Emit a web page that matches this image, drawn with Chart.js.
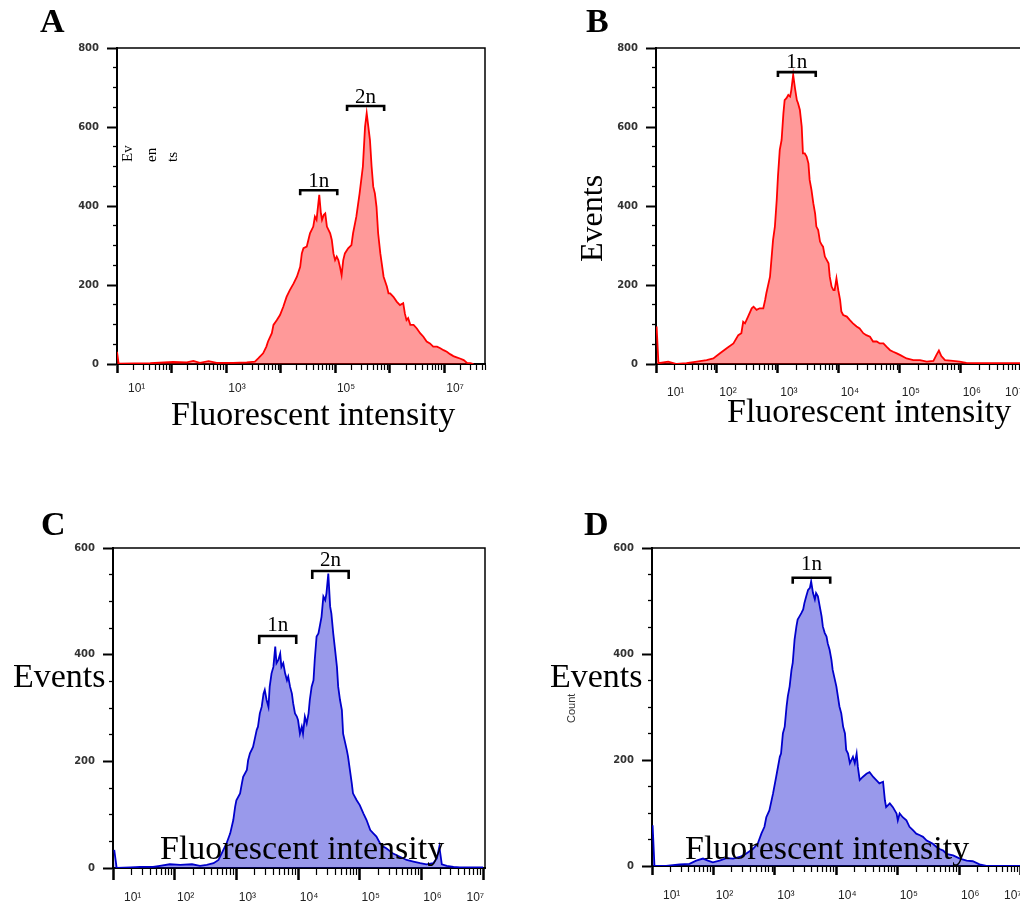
<!DOCTYPE html>
<html>
<head>
<meta charset="utf-8">
<script src="https://cdn.jsdelivr.net/npm/chart.js@4.4.1/dist/chart.umd.min.js"></script>
<style>
html,body{margin:0;padding:0;width:1020px;height:901px;overflow:hidden;background:#fff;}
canvas{position:absolute;}
.t{position:absolute;white-space:nowrap;line-height:1;color:#000;font-family:"Liberation Serif","Times New Roman",serif;}
.rot{transform:rotate(-90deg);transform-origin:0 0;}
</style>
</head>
<body>
<canvas id="cA"></canvas>
<canvas id="cB"></canvas>
<canvas id="cC"></canvas>
<canvas id="cD"></canvas>

<div class="t" style="left:40px;top:4px;font-size:34px;font-weight:bold;">A</div>
<div class="t" style="left:586px;top:4px;font-size:34px;font-weight:bold;">B</div>
<div class="t" style="left:41px;top:507px;font-size:34px;font-weight:bold;">C</div>
<div class="t" style="left:584px;top:507px;font-size:34px;font-weight:bold;">D</div>

<div class="t" style="left:171px;top:397px;font-size:34px;">Fluorescent intensity</div>
<div class="t" style="left:727px;top:394px;font-size:34px;">Fluorescent intensity</div>
<div class="t" style="left:160px;top:831px;font-size:34px;">Fluorescent intensity</div>
<div class="t" style="left:685px;top:831px;font-size:34px;">Fluorescent intensity</div>

<div class="t rot" style="left:575px;top:262px;font-size:32px;">Events</div>
<div class="t" style="left:13px;top:659px;font-size:34px;">Events</div>
<div class="t" style="left:550px;top:659px;font-size:34px;">Events</div>

<div class="t rot" style="left:120px;top:162px;font-size:15px;">Ev</div>
<div class="t rot" style="left:144px;top:162px;font-size:15px;">en</div>
<div class="t rot" style="left:165px;top:162px;font-size:15px;">ts</div>
<div class="t rot" style="left:566px;top:723px;font-size:11px;font-family:'Liberation Sans',Arial,sans-serif;color:#333;">Count</div>

<script>
// ---------- DATA (log10 of fluorescent intensity, event counts) ----------
const A_logI = [
  1.00, 1.03, 1.61, 2.03, 2.28, 2.40, 2.52, 2.68, 2.83, 3.13,
  3.38, 3.53, 3.59, 3.68, 3.74, 3.77, 3.84, 3.87, 3.93, 3.99,
  4.05, 4.11, 4.17, 4.24, 4.30, 4.36, 4.39, 4.42, 4.48, 4.51,
  4.54, 4.60, 4.63, 4.66, 4.69, 4.71, 4.74, 4.76, 4.79, 4.82,
  4.85, 4.91, 4.94, 4.97, 5.00, 5.03, 5.06, 5.09, 5.12, 5.15,
  5.18, 5.24, 5.30, 5.33, 5.39, 5.45, 5.51, 5.55, 5.58, 5.61,
  5.64, 5.67, 5.70, 5.73, 5.76, 5.79, 5.83, 5.89, 5.95, 5.98,
  6.01, 6.07, 6.13, 6.19, 6.25, 6.28, 6.31, 6.34, 6.38, 6.44,
  6.50, 6.56, 6.62, 6.68, 6.74, 6.80, 6.87, 6.93, 6.99, 7.05,
  7.11, 7.17, 7.23, 7.29, 7.36, 7.42, 7.48, 7.54
];
const A_counts = [
  31, 1, 2, 5, 4, 8, 3, 7, 3, 3,
  4, 6, 14, 27, 44, 57, 78, 99, 111, 124,
  145, 170, 187, 204, 221, 246, 280, 293, 297, 314,
  331, 348, 373, 365, 403, 428, 381, 365, 377, 381,
  348, 331, 314, 280, 263, 272, 263, 246, 225, 263,
  280, 293, 301, 331, 373, 432, 500, 601, 635, 601,
  567, 500, 449, 432, 398, 331, 280, 221, 196, 179,
  179, 170, 158, 149, 154, 128, 111, 116, 99, 99,
  90, 78, 69, 57, 52, 44, 44, 40, 35, 31,
  25, 20, 17, 14, 10, 3, 2, 0
];

const B_logI = [
  1.01, 1.04, 1.20, 1.34, 1.50, 1.67, 1.83, 1.94, 2.05, 2.16,
  2.27, 2.35, 2.40, 2.43, 2.46, 2.51, 2.57, 2.60, 2.65, 2.70,
  2.76, 2.79, 2.81, 2.87, 2.92, 2.95, 2.98, 3.00, 3.03, 3.06,
  3.09, 3.11, 3.14, 3.17, 3.20, 3.22, 3.25, 3.28, 3.31, 3.33,
  3.36, 3.39, 3.41, 3.44, 3.47, 3.50, 3.52, 3.55, 3.58, 3.61,
  3.63, 3.66, 3.69, 3.72, 3.74, 3.77, 3.83, 3.85, 3.88, 3.91,
  3.93, 3.96, 3.99, 4.02, 4.04, 4.07, 4.13, 4.18, 4.23, 4.29,
  4.34, 4.40, 4.45, 4.51, 4.56, 4.62, 4.67, 4.73, 4.78, 4.84,
  4.89, 4.95, 5.00, 5.11, 5.22, 5.33, 5.44, 5.55, 5.60, 5.64,
  5.68, 5.74, 5.87, 5.98, 6.09, 6.31, 6.48, 6.97
];
const B_counts = [
  95, 2, 6, 0, 2, 6, 10, 14, 27, 40,
  52, 73, 78, 107, 103, 120, 141, 145, 137, 141,
  141, 162, 179, 221, 314, 348, 415, 474, 542, 567,
  635, 668, 673, 681, 677, 694, 732, 698, 668, 660,
  643, 601, 533, 533, 525, 508, 466, 441, 407, 381,
  348, 339, 310, 301, 297, 272, 255, 221, 196, 187,
  187, 217, 187, 162, 133, 124, 120, 111, 103, 95,
  90, 78, 73, 69, 57, 57, 52, 52, 44, 35,
  31, 27, 23, 14, 10, 10, 6, 8, 23, 34,
  20, 10, 8, 6, 3, 2, 2, 2
];

const C_logI = [
  1.02, 1.06, 1.28, 1.44, 1.65, 1.76, 1.92, 2.09, 2.28, 2.41,
  2.52, 2.63, 2.71, 2.76, 2.84, 2.90, 2.95, 2.98, 3.00, 3.06,
  3.09, 3.11, 3.17, 3.19, 3.22, 3.27, 3.30, 3.33, 3.35, 3.38,
  3.41, 3.44, 3.46, 3.49, 3.52, 3.54, 3.57, 3.60, 3.63, 3.65,
  3.68, 3.71, 3.73, 3.76, 3.79, 3.82, 3.84, 3.87, 3.90, 3.92,
  3.95, 3.98, 4.00, 4.03, 4.06, 4.08, 4.11, 4.14, 4.17, 4.19,
  4.22, 4.25, 4.27, 4.30, 4.33, 4.35, 4.38, 4.41, 4.44, 4.46,
  4.49, 4.52, 4.54, 4.57, 4.60, 4.63, 4.65, 4.68, 4.71, 4.73,
  4.79, 4.81, 4.84, 4.87, 4.89, 4.95, 5.00, 5.06, 5.11, 5.17,
  5.22, 5.27, 5.33, 5.38, 5.43, 5.54, 5.65, 5.76, 5.87, 5.98,
  6.08, 6.19, 6.25, 6.29, 6.33, 6.41, 6.52, 6.62, 7.00
];
const C_counts = [
  34, 0, 1, 2, 2, 4, 7, 6, 7, 4,
  6, 9, 15, 27, 46, 65, 90, 115, 127, 140,
  159, 171, 184, 202, 215, 227, 243, 259, 265, 290,
  302, 327, 334, 315, 302, 340, 365, 377, 415, 384,
  390, 402, 377, 384, 365, 352, 359, 340, 327, 309,
  290, 284, 277, 252, 265, 252, 284, 271, 290, 315,
  340, 352, 390, 434, 440, 452, 471, 509, 502, 515,
  552, 490, 477, 440, 409, 377, 340, 315, 296, 252,
  221, 209, 184, 159, 140, 127, 118, 102, 90, 71,
  65, 59, 46, 40, 37, 27, 21, 15, 12, 9,
  7, 9, 18, 40, 7, 4, 2, 1, 1
];

const D_logI = [
  1.01, 1.04, 1.23, 1.45, 1.61, 1.72, 1.83, 1.91, 1.99, 2.10,
  2.21, 2.32, 2.43, 2.53, 2.64, 2.72, 2.78, 2.83, 2.86, 2.91,
  2.97, 3.02, 3.08, 3.10, 3.13, 3.16, 3.19, 3.21, 3.24, 3.27,
  3.29, 3.32, 3.35, 3.37, 3.40, 3.43, 3.46, 3.48, 3.51, 3.54,
  3.57, 3.59, 3.62, 3.65, 3.67, 3.70, 3.73, 3.76, 3.78, 3.81,
  3.84, 3.86, 3.89, 3.92, 3.94, 4.00, 4.05, 4.08, 4.11, 4.14,
  4.16, 4.19, 4.22, 4.27, 4.30, 4.33, 4.35, 4.38, 4.43, 4.49,
  4.54, 4.60, 4.65, 4.70, 4.76, 4.79, 4.81, 4.87, 4.92, 4.98,
  5.00, 5.03, 5.08, 5.14, 5.19, 5.25, 5.30, 5.36, 5.41, 5.47,
  5.52, 5.57, 5.63, 5.68, 5.74, 5.79, 5.90, 6.01, 6.12, 6.22,
  6.33, 6.44, 6.99
];
const D_counts = [
  77, 0, 0, 3, 4, 10, 14, 10, 7, 10,
  15, 14, 17, 23, 32, 42, 61, 74, 92, 105,
  137, 168, 206, 212, 250, 263, 301, 320, 339, 370,
  383, 427, 452, 465, 471, 477, 484, 496, 509, 521,
  525, 537, 515, 503, 515, 509, 490, 471, 452, 440,
  433, 420, 408, 389, 370, 339, 301, 288, 263, 250,
  219, 212, 194, 206, 194, 212, 187, 162, 168, 174,
  177, 168, 162, 156, 159, 124, 111, 118, 111, 99,
  86, 99, 92, 86, 74, 67, 61, 58, 55, 48,
  45, 42, 36, 32, 29, 23, 20, 14, 10, 9,
  3, 0, 0
];

// tick labels
const A_xTickExps = [1, 3, 5, 7];
const A_xTickLabels = ['10\u00b9', '10\u00b3', '10\u2075', '10\u2077'];
const BCD_xTickExps = [1, 2, 3, 4, 5, 6, 7];
const BCD_xTickLabels = ['10\u00b9', '10\u00b2', '10\u00b3', '10\u2074', '10\u2075', '10\u2076', '10\u2077'];
const yTickLabels800 = ['0', '200', '400', '600', '800'];
const yTickLabels600 = ['0', '200', '400', '600'];

// gates (ploidy brackets), in log10 intensity and counts
const A_gates = [{label: '1n', lo: 4.36, hi: 5.04, y: 440}, {label: '2n', lo: 5.22, hi: 5.90, y: 653}];
const B_gates = [{label: '1n', lo: 3.00, hi: 3.62, y: 739}];
const C_gates = [{label: '1n', lo: 3.37, hi: 3.97, y: 435}, {label: '2n', lo: 4.23, hi: 4.82, y: 557}];
const D_gates = [{label: '1n', lo: 3.29, hi: 3.90, y: 544}];

// ---------- helpers ----------
function isDecade(v) {
  const l = Math.log10(v);
  return Math.abs(l - Math.round(l)) < 1e-7;
}
function buildLogTicks(lastValue, addEnd) {
  const ticks = [];
  for (let e = 1; e <= 7; e++) {
    for (let k = 1; k <= 9; k++) {
      const v = k * Math.pow(10, e);
      if (v > lastValue * 1.0000001) break;
      ticks.push({value: v, major: k === 1});
    }
  }
  if (addEnd) ticks.push({value: lastValue, major: false});
  return ticks;
}

const framePlugin = {
  id: 'frame',
  afterDraw(chart, args, opts) {
    const ctx = chart.ctx, a = chart.chartArea;
    ctx.save();
    ctx.strokeStyle = '#000';
    ctx.lineWidth = 1.5;
    ctx.beginPath();
    ctx.moveTo(a.left, a.top);
    ctx.lineTo(a.right, a.top);
    ctx.lineTo(a.right, a.bottom);
    ctx.stroke();
    const xs = chart.scales.x, ys = chart.scales.y;
    const gates = opts.gates || [];
    ctx.lineWidth = 2.6;
    ctx.lineJoin = 'miter';
    ctx.fillStyle = '#000';
    ctx.font = '21px "Liberation Serif", "Times New Roman", serif';
    ctx.textAlign = 'center';
    ctx.textBaseline = 'alphabetic';
    for (let i = 0; i < gates.length; i++) {
      const g = gates[i];
      const x1 = xs.getPixelForValue(Math.pow(10, g.lo));
      const x2 = xs.getPixelForValue(Math.pow(10, g.hi));
      const y = ys.getPixelForValue(g.y);
      ctx.beginPath();
      ctx.moveTo(x1, y + opts.hook);
      ctx.lineTo(x1, y);
      ctx.lineTo(x2, y);
      ctx.lineTo(x2, y + opts.hook);
      ctx.stroke();
      ctx.fillText(g.label, (x1 + x2) / 2, y - opts.gap);
    }
    ctx.restore();
  }
};

function makeChart(id, cfg) {
  const el = document.getElementById(id);
  const b = cfg.box;
  el.width = b.width; el.height = b.height;
  el.style.left = b.left + 'px'; el.style.top = b.top + 'px';
  el.style.width = b.width + 'px'; el.style.height = b.height + 'px';
  const pts = cfg.logI.map((l, i) => ({x: Math.pow(10, l), y: cfg.counts[i]}));
  const xMax = Math.pow(10, cfg.xMaxExp);
  const lastTick = cfg.tickEnd === 'max' ? xMax : 1e7;
  const tickList = () => buildLogTicks(lastTick, cfg.tickEnd === 'max');
  return new Chart(el, {
    type: 'line',
    data: {datasets: [{
      data: pts,
      borderColor: cfg.line,
      backgroundColor: cfg.fill,
      borderWidth: 1.8,
      pointRadius: 0,
      fill: 'origin',
      tension: 0
    }]},
    options: {
      responsive: false,
      animation: false,
      devicePixelRatio: 1,
      layout: {padding: {top: 20, right: 25, left: 0, bottom: 0}},
      plugins: {
        legend: {display: false},
        tooltip: {enabled: false},
        frame: {gates: cfg.gates, hook: cfg.hook, gap: cfg.gap}
      },
      scales: {
        x: {
          type: 'logarithmic',
          min: 10,
          max: xMax,
          bounds: 'data',
          position: 'bottom',
          z: 1,
          afterFit: s => { s.height = 40; },
          afterBuildTicks: s => { s.ticks = tickList(); },
          ticks: {
            autoSkip: false,
            maxRotation: 0,
            minRotation: 0,
            align: 'inner',
            labelOffset: 11,
            padding: cfg.xPad,
            font: {family: 'Liberation Sans', size: 12},
            color: '#222',
            callback: function (v, i, ticks) {
              if (!isDecade(v)) return '';
              const e = Math.round(Math.log10(v));
              const idx = cfg.xExps.indexOf(e);
              if (idx < 0) return '';
              let s = cfg.xLabels[idx];
              if (i === ticks.length - 1) s = s + '   ';
              return s;
            }
          },
          grid: {
            drawOnChartArea: false,
            drawTicks: true,
            tickLength: cfg.xTickLen,
            tickColor: '#000',
            tickWidth: c => (c.tick && isDecade(c.tick.value)) ? 2.5 : 1.2,
            tickBorderDash: c => (c.tick && isDecade(c.tick.value)) ? [] : [cfg.xMinorLen, 40],
            tickBorderDashOffset: 0
          },
          border: {display: true, color: '#000', width: 2}
        },
        y: {
          type: 'linear',
          min: 0,
          max: cfg.yMax,
          z: 1,
          afterFit: s => { s.width = 60; },
          ticks: {
            stepSize: 50,
            autoSkip: false,
            padding: 8,
            font: {family: 'DejaVu Sans', size: 10, weight: 'bold'},
            color: '#333',
            callback: v => (v % 200 === 0 ? cfg.yLabels[v / 200] : '')
          },
          grid: {
            drawOnChartArea: false,
            drawTicks: true,
            tickLength: 10,
            tickColor: '#000',
            tickWidth: c => (c.tick && c.tick.value % 200 === 0) ? 2 : 1.3,
            tickBorderDash: c => (c.tick && c.tick.value % 200 === 0) ? [] : [4, 6],
            tickBorderDashOffset: c => (c.tick && c.tick.value % 200 === 0) ? 0 : 4
          },
          border: {display: true, color: '#000', width: 2}
        }
      }
    },
    plugins: [framePlugin]
  });
}

const RED = '#ff0000', RED_FILL = 'rgba(255,0,0,0.4)';
const BLUE = '#0000cc', BLUE_FILL = 'rgba(0,0,204,0.4)';

makeChart('cA', {
  box: {left: 57, top: 28, width: 453, height: 376},
  logI: A_logI, counts: A_counts, line: RED, fill: RED_FILL,
  xMaxExp: 7.75, tickEnd: 'max', xExps: A_xTickExps, xLabels: A_xTickLabels,
  xPad: 8, xTickLen: 9, xMinorLen: 5,
  yMax: 800, yLabels: yTickLabels800,
  gates: A_gates, hook: 5, gap: 3
});
makeChart('cB', {
  box: {left: 596, top: 28, width: 463, height: 376},
  logI: B_logI, counts: B_counts, line: RED, fill: RED_FILL,
  xMaxExp: 7.2, tickEnd: 'decade', xExps: BCD_xTickExps, xLabels: BCD_xTickLabels,
  xPad: 12, xTickLen: 9, xMinorLen: 5,
  yMax: 800, yLabels: yTickLabels800,
  gates: B_gates, hook: 5, gap: 4
});
makeChart('cC', {
  box: {left: 53, top: 528, width: 457, height: 380},
  logI: C_logI, counts: C_counts, line: BLUE, fill: BLUE_FILL,
  xMaxExp: 7.03, tickEnd: 'decade', xExps: BCD_xTickExps, xLabels: BCD_xTickLabels,
  xPad: 10, xTickLen: 12, xMinorLen: 6,
  yMax: 600, yLabels: yTickLabels600,
  gates: C_gates, hook: 8, gap: 5
});
makeChart('cD', {
  box: {left: 592, top: 528, width: 466, height: 378},
  logI: D_logI, counts: D_counts, line: BLUE, fill: BLUE_FILL,
  xMaxExp: 7.2, tickEnd: 'decade', xExps: BCD_xTickExps, xLabels: BCD_xTickLabels,
  xPad: 13, xTickLen: 9, xMinorLen: 5,
  yMax: 600, yLabels: yTickLabels600,
  gates: D_gates, hook: 6, gap: 8
});
</script>
</body>
</html>
